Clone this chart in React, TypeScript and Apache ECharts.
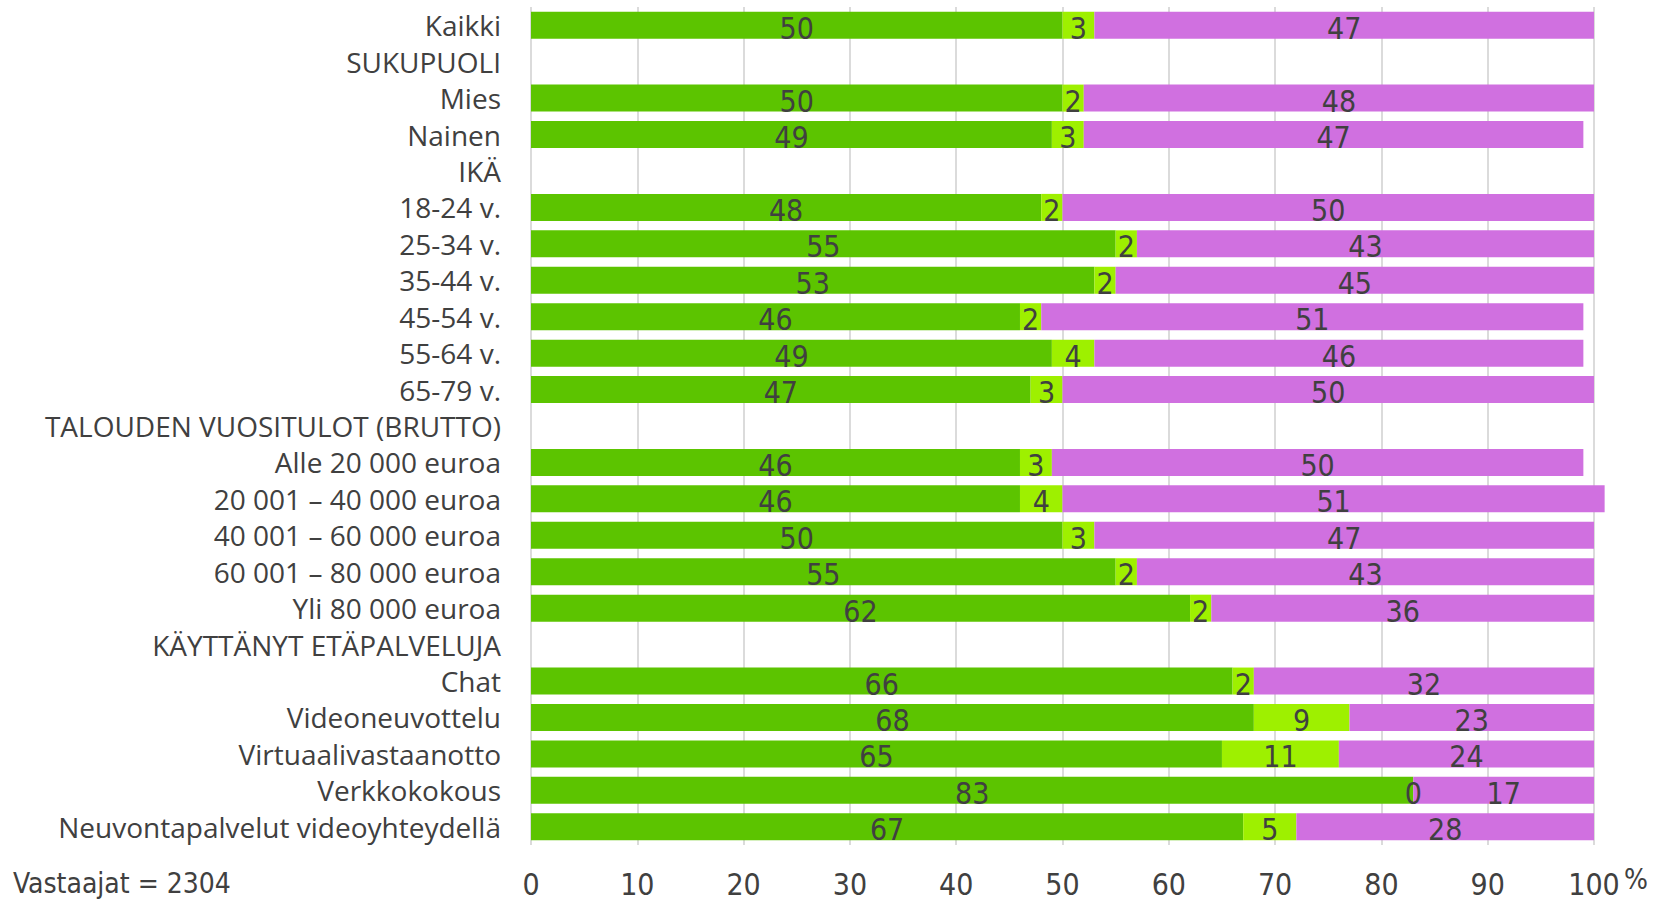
import React, { useEffect, useRef } from "react";
import * as echarts from "echarts";

const categories = [
  "Kaikki",
  "SUKUPUOLI",
  "Mies",
  "Nainen",
  "IKÄ",
  "18-24 v.",
  "25-34 v.",
  "35-44 v.",
  "45-54 v.",
  "55-64 v.",
  "65-79 v.",
  "TALOUDEN VUOSITULOT (BRUTTO)",
  "Alle 20 000 euroa",
  "20 001 – 40 000 euroa",
  "40 001 – 60 000 euroa",
  "60 001 – 80 000 euroa",
  "Yli 80 000 euroa",
  "KÄYTTÄNYT ETÄPALVELUJA",
  "Chat",
  "Videoneuvottelu",
  "Virtuaalivastaanotto",
  "Verkkokokous",
  "Neuvontapalvelut videoyhteydellä",
];

const seriesA: (number | null)[] = [50, null, 50, 49, null, 48, 55, 53, 46, 49, 47, null, 46, 46, 50, 55, 62, null, 66, 68, 65, 83, 67];
const seriesB: (number | null)[] = [3, null, 2, 3, null, 2, 2, 2, 2, 4, 3, null, 3, 4, 3, 2, 2, null, 2, 9, 11, 0, 5];
const seriesC: (number | null)[] = [47, null, 48, 47, null, 50, 43, 45, 51, 46, 50, null, 50, 51, 47, 43, 36, null, 32, 23, 24, 17, 28];

const xTicks = [0, 10, 20, 30, 40, 50, 60, 70, 80, 90, 100];
const respondents = "Vastaajat = 2304";

const TEXT = "#404040";
const NARROW = "'Liberation Sans Narrow', 'DejaVu Sans Condensed', Roboto, sans-serif";
const LABELFONT = "'Open Sans', 'Noto Sans', sans-serif";

export default function App() {
  const ref = useRef<HTMLDivElement>(null);
  useEffect(() => {
    if (!ref.current) return;
    const chart = echarts.init(ref.current, undefined, { renderer: "svg" });
    const label = {
      show: true,
      position: "inside" as const,
      color: TEXT,
      fontFamily: NARROW,
      fontSize: 30,
      offset: [0, 3],
      formatter: (p: any) => (p.value === null || p.value === undefined ? "" : String(p.value)),
    };
    const mk = (name: string, data: (number | null)[], color: string) => ({
      name,
      type: "bar",
      stack: "s",
      data,
      barWidth: 27,
      clip: false,
      itemStyle: { color },
      label,
    });
    chart.setOption({
      animation: false,
      grid: { left: 531, right: 69, top: 7, bottom: 56, containLabel: false },
      xAxis: {
        type: "value",
        min: 0,
        max: 100,
        interval: 10,
        axisLine: { show: false },
        axisTick: { show: false },
        splitLine: { show: true, lineStyle: { color: "#CFCFCF", width: 1.5 } },
        axisLabel: {
          color: TEXT,
          fontFamily: NARROW,
          fontSize: 30,
          margin: 24,
          formatter: (v: number) => (xTicks.includes(v) ? String(v) : ""),
        },
      },
      yAxis: {
        type: "category",
        inverse: true,
        data: categories,
        axisLine: { show: false },
        axisTick: { show: false },
        axisLabel: { color: TEXT, fontFamily: LABELFONT, fontSize: 28, margin: 30 },
      },
      series: [
        mk("A", seriesA, "#5CC400"),
        mk("B", seriesB, "#9EF000"),
        mk("C", seriesC, "#D070E0"),
      ],
      graphic: [
        {
          type: "text",
          left: 13,
          top: 869,
          style: { text: respondents, fill: TEXT, font: `28px ${NARROW}` },
        },
        {
          type: "text",
          left: 1624,
          top: 865,
          style: { text: "%", fill: TEXT, font: `28px ${NARROW}` },
        },
      ],
    });
    return () => chart.dispose();
  }, []);
  return (
    <div
      ref={ref}
      style={{ position: "absolute", left: 0, top: 0, width: 1663, height: 901 }}
    />
  );
}
